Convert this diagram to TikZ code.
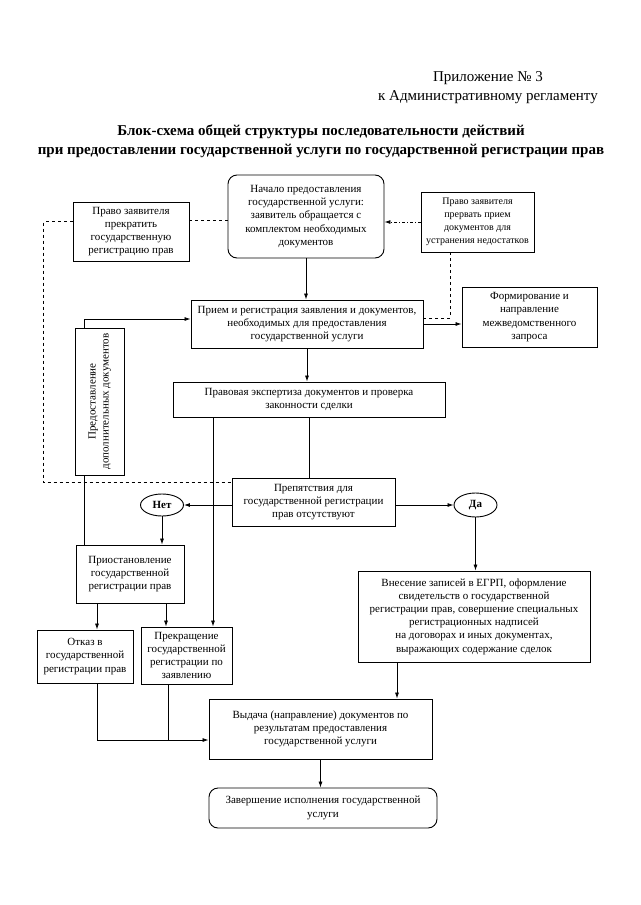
\documentclass[tikz,border=0pt]{standalone}
\usepackage{fontspec}
\setmainfont{Liberation Serif}
\usepackage{graphicx}
\usetikzlibrary{shapes.geometric, arrows.meta, positioning, calc}

\begin{document}
\begin{tikzpicture}[x=1pt, y=-1pt,
          stepbox/.style={rectangle, draw=black, line width=0.9pt, align=center, inner sep=1pt, font=\fontsize{11}{13.2}\selectfont},
          roundbox/.style={stepbox, rounded corners=9pt},
          decision/.style={ellipse, draw=black, line width=0.9pt, inner sep=0pt, font=\fontsize{11}{12}\selectfont\bfseries},
          line/.style={line width=0.8pt, color=black},
          arrow/.style={line, -{Latex[length=6pt, width=4pt]}},
          dashline/.style={line, dashed},
          dashdotline/.style={line, dash dot}]

        \useasboundingbox (0,0) rectangle (640,905);

        % header
        \node [align=center, font=\fontsize{15}{19}\selectfont] (annex) at (488,88) {Приложение № 3\\к Административному регламенту};
        \node [align=center, font=\fontsize{15}{19}\selectfont\bfseries] (title) at (321,141) {Блок-схема общей структуры последовательности действий\\при предоставлении государственной услуги по государственной регистрации прав};

        % boxes
        \node [roundbox, minimum width=156, minimum height=83] (start) at (306,216.5) {Начало предоставления\\государственной услуги:\\заявитель обращается с\\комплектом необходимых\\документов};
        \node [stepbox, minimum width=116, minimum height=59] (stopright) at (131,231.5) {Право заявителя\\прекратить\\государственную\\регистрацию прав};
        \node [stepbox, minimum width=113, minimum height=60, font=\fontsize{10}{13}\selectfont] (pause) at (477.5,222) {Право заявителя\\прервать прием\\документов для\\устранения недостатков};
        \node [stepbox, minimum width=232, minimum height=48] (reception) at (307,324) {Прием и регистрация заявления и документов,\\необходимых для предоставления\\государственной услуги};
        \node [stepbox, minimum width=135, minimum height=60] (request) at (529.5,317) {Формирование и\\направление\\межведомственного\\запроса};
        \node [stepbox, minimum width=272, minimum height=35] (expertise) at (309,399.5) {Правовая экспертиза документов и проверка\\законности сделки};
        \node [stepbox, minimum width=49, minimum height=147] (extradocs) at (99.5,401.5) {\rotatebox{90}{\begin{tabular}{@{}c@{}}Предоставление\\дополнительных документов\end{tabular}}};
        \node [stepbox, minimum width=163, minimum height=48] (obstacles) at (313.5,502) {Препятствия для\\государственной регистрации\\прав отсутствуют};
        \node [decision, minimum width=43, minimum height=22] (no) at (162,505) {Нет};
        \node [decision, minimum width=43, minimum height=24] (yes) at (475.5,505) {Да};
        \node [stepbox, minimum width=108, minimum height=58] (suspend) at (130,574) {Приостановление\\государственной\\регистрации прав};
        \node [stepbox, minimum width=96, minimum height=53] (refuse) at (85,656.5) {Отказ в\\государственной\\регистрации прав};
        \node [stepbox, minimum width=91, minimum height=57] (terminate) at (186.5,655.5) {Прекращение\\государственной\\регистрации по\\заявлению};
        \node [stepbox, minimum width=232, minimum height=91] (record) at (474,616.5) {Внесение записей в ЕГРП, оформление\\свидетельств о государственной\\регистрации прав, совершение специальных\\регистрационных надписей\\на договорах и иных документах,\\выражающих содержание сделок};
        \node [stepbox, minimum width=223, minimum height=60] (issue) at (320.5,729) {Выдача (направление) документов по\\результатам предоставления\\государственной услуги};
        \node [roundbox, minimum width=228, minimum height=40] (finish) at (323,808) {Завершение исполнения государственной\\услуги};

        % helper points
        \coordinate (c1) at ([yshift=11pt]stopright.east);
        \coordinate (c2) at ([yshift=10pt]stopright.west);
        \coordinate (c3) at ([yshift=-5pt]obstacles.north west);
        \coordinate (p1) at ([xshift=-27pt]pause.south);
        \coordinate (p2) at ([yshift=6pt]reception.east);
        \coordinate (d1) at ([xshift=-15pt]extradocs.north);
        \coordinate (d2) at ([yshift=5pt]reception.west);
        \coordinate (d3) at ([xshift=-15pt]extradocs.south);
        \coordinate (e1) at ([xshift=-96pt]expertise.south);
        \coordinate (s1) at ([xshift=-33pt]suspend.south);
        \coordinate (s2) at ([xshift=36pt]suspend.south);
        \coordinate (r1) at ([xshift=-77pt]record.south);
        \coordinate (t1) at ([xshift=-18pt]terminate.south);
        \coordinate (f1) at ([xshift=12pt]refuse.south);
        \coordinate (merge) at ([yshift=-11pt]issue.west);

        % main flow
        \draw [arrow] (start.south) -- (start.south |- reception.north);
        \draw [arrow] (reception.south) -- (reception.south |- expertise.north);
        \draw [arrow] (reception.east) -- (reception.east -| request.west);
        \draw [line] (expertise.south) -- (expertise.south |- obstacles.north);
        \draw [arrow] (e1) -- (e1 |- terminate.north);
        \draw [arrow] (no.east -| obstacles.west) -- (no.east);
        \draw [arrow] (yes.west -| obstacles.east) -- (yes.west);
        \draw [arrow] (no.south) -- (no.south |- suspend.north);
        \draw [arrow] (yes.south) -- (yes.south |- record.north);
        \draw [arrow] (s1) -- (s1 |- refuse.north);
        \draw [arrow] (s2) -- (s2 |- terminate.north);
        \draw [arrow] (d1) |- (d2);
        \draw [line] (d3) -- (d3 |- suspend.north);
        \draw [arrow] (r1) -- (r1 |- issue.north);
        \draw [arrow] (f1) |- (merge);
        \draw [line] (t1) -- (t1 |- merge);
        \draw [arrow] (issue.south) -- (issue.south |- finish.north);

        % applicant's rights
        \draw [dashline] (c1) -- (c1 -| start.west);
        \draw [dashline] (c2) -- ++(-29,0) |- (c3);
        \draw [dashdotline, -{Latex[length=6pt, width=4pt]}] (pause.west) -- (pause.west -| start.east);
        \draw [dashline] (p1) |- (p2);
      \end{tikzpicture}
\end{document}
